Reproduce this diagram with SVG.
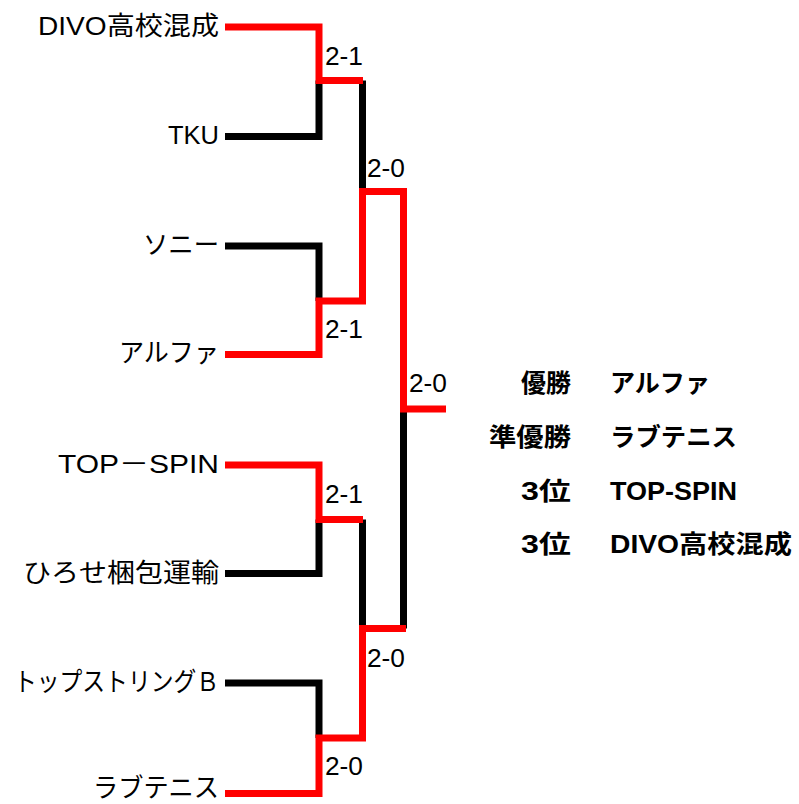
<svg xmlns="http://www.w3.org/2000/svg" width="799" height="804" viewBox="0 0 799 804">
<style>
.bg{fill:#fff}
.lose{fill:none;stroke:#000;stroke-width:7;stroke-linejoin:miter;stroke-linecap:butt}
.win{fill:none;stroke:#f00;stroke-width:7;stroke-linejoin:miter;stroke-linecap:butt}
.name{font-family:"Liberation Sans","Noto Sans CJK JP",sans-serif;font-size:26px;fill:#000;text-anchor:end}
.score{font-family:"Liberation Sans","Noto Sans CJK JP",sans-serif;font-size:25px;fill:#000}
.rank{font-family:"Liberation Sans","Noto Sans CJK JP",sans-serif;font-size:25px;font-weight:bold;fill:#000}
.rl{text-anchor:end}
</style>
<rect class="bg" x="0" y="0" width="799" height="804"/>
<g id="connectors">
<path class="lose" d="M225,136.5 H319 V80.5"/>
<path class="lose" d="M362.5,80.5 V192"/>
<path class="lose" d="M225,246 H319 V301"/>
<path class="lose" d="M403.5,409 V628.5"/>
<path class="lose" d="M225,573.5 H319 V519.5"/>
<path class="lose" d="M362.5,519.5 V628.5"/>
<path class="lose" d="M225,683 H319 V738"/>
<path class="win" d="M225,27 H319 V80.5 H363"/>
<path class="win" d="M225,354.5 H319 V301 H362.5 V191.5 H403.5 V409 H446"/>
<path class="win" d="M225,465 H319 V519.5 H363"/>
<path class="win" d="M225,793.5 H319 V738 H362.5 V628.5 H406"/>
</g>
<g id="scores">
<text class="score" x="325" y="65" textLength="38" lengthAdjust="spacingAndGlyphs">2-1</text>
<text class="score" x="367" y="177" textLength="38" lengthAdjust="spacingAndGlyphs">2-0</text>
<text class="score" x="325" y="338" textLength="38" lengthAdjust="spacingAndGlyphs">2-1</text>
<text class="score" x="409" y="392" textLength="38" lengthAdjust="spacingAndGlyphs">2-0</text>
<text class="score" x="325" y="503" textLength="38" lengthAdjust="spacingAndGlyphs">2-1</text>
<text class="score" x="367" y="667" textLength="38" lengthAdjust="spacingAndGlyphs">2-0</text>
<text class="score" x="325" y="775" textLength="38" lengthAdjust="spacingAndGlyphs">2-0</text>
</g>
<g id="team-divo"><text class="name" x="219" y="35" textLength="181" lengthAdjust="spacingAndGlyphs">DIVO高校混成</text></g>
<g id="team-tku"><text class="name" x="219" y="144" textLength="51" lengthAdjust="spacingAndGlyphs">TKU</text></g>
<g id="team-sony"><text class="name" x="219" y="254" textLength="76" lengthAdjust="spacingAndGlyphs">ソニー</text></g>
<g id="team-alpha"><text class="name" x="219" y="362" textLength="100" lengthAdjust="spacingAndGlyphs">アルファ</text></g>
<g id="team-topspin"><text class="name" x="219" y="473" textLength="161" lengthAdjust="spacingAndGlyphs">TOP－SPIN</text></g>
<g id="team-hirose"><text class="name" x="219" y="582" textLength="196" lengthAdjust="spacingAndGlyphs">ひろせ梱包運輸</text></g>
<g id="team-topstring"><text class="name" x="219" y="691" textLength="205" lengthAdjust="spacingAndGlyphs">トップストリングＢ</text></g>
<g id="team-lovetennis"><text class="name" x="219" y="797" textLength="126" lengthAdjust="spacingAndGlyphs">ラブテニス</text></g>
<g id="results">
<text class="rank rl" x="571" y="392" textLength="50" lengthAdjust="spacingAndGlyphs">優勝</text>
<text class="rank" x="610" y="392" textLength="100" lengthAdjust="spacingAndGlyphs">アルファ</text>
<text class="rank rl" x="571" y="446" textLength="82" lengthAdjust="spacingAndGlyphs">準優勝</text>
<text class="rank" x="610" y="446" textLength="127" lengthAdjust="spacingAndGlyphs">ラブテニス</text>
<text class="rank rl" x="571" y="500" textLength="50" lengthAdjust="spacingAndGlyphs">3位</text>
<text class="rank" x="610" y="500" textLength="127" lengthAdjust="spacingAndGlyphs">TOP-SPIN</text>
<text class="rank rl" x="571" y="553" textLength="50" lengthAdjust="spacingAndGlyphs">3位</text>
<text class="rank" x="610" y="553" textLength="182" lengthAdjust="spacingAndGlyphs">DIVO高校混成</text>
</g>
</svg>
